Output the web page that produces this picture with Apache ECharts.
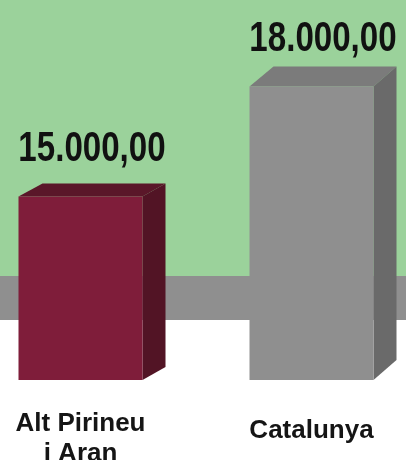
<!DOCTYPE html>
<html>
<head>
<meta charset="utf-8">
<script src="https://cdn.jsdelivr.net/npm/echarts@6/dist/echarts.min.js"></script>
<style>html,body{margin:0;padding:0;background:#fff}#c{width:406px;height:460px}</style>
</head>
<body>
<div id="c"></div>
<script>
const categories = ['Alt Pirineu\ni Aran', 'Catalunya'];
const values = [15000, 18000];
const valueLabels = ['15.000,00', '18.000,00'];

const palette = [
  { front: '#7f1d3a', side: '#521425', top: '#5a1729' },
  { front: '#8f8f8f', side: '#6a6a6a', top: '#7b7b7b' }
];

const chart = echarts.init(document.getElementById('c'), null, { renderer: 'canvas' });

const option = {
  animation: false,
  backgroundColor: '#ffffff',
  graphic: [
    { type: 'rect', z: -10, silent: true, shape: { x: 0, y: 0, width: 406, height: 276 }, style: { fill: '#9bd29b' } },
    { type: 'rect', z: -10, silent: true, shape: { x: 0, y: 276, width: 406, height: 44 }, style: { fill: '#8f8f8f' } }
  ],
  grid: { left: 80.5, right: 94.5, top: 13, bottom: 80, containLabel: false, outerBoundsMode: 'none' },
  xAxis: {
    type: 'category',
    data: categories,
    boundaryGap: false,
    axisLine: { show: false },
    axisTick: { show: false },
    splitLine: { show: false },
    axisLabel: {
      margin: 29,
      interval: 0,
      color: '#151515',
      fontFamily: 'Liberation Sans',
      fontWeight: 'bold',
      fontSize: 26,
      lineHeight: 30,
      formatter: function (v, i) {
        return i === 1 ? '{b|' + v + '}' : v;
      },
      rich: {
        b: { fontFamily: 'Liberation Sans', fontWeight: 'bold', fontSize: 26, color: '#151515', lineHeight: 30, padding: [14, 0, 0, 0] }
      }
    }
  },
  yAxis: {
    type: 'value',
    min: 10000,
    max: 20000,
    show: false,
    splitLine: { show: false }
  },
  series: [{
    type: 'custom',
    data: values.map((v, i) => [i, v]),
    encode: { x: 0, y: 1 },
    renderItem: function (params, api) {
      const idx = api.value(0);
      const v = api.value(1);
      const top = api.coord([idx, v]);
      const base = api.coord([idx, 10000]);
      const w = 124;
      const x0 = top[0] - w / 2, x1 = top[0] + w / 2;
      const dx = 23;
      const dy = idx === 0 ? 13 : 20;
      const ty = top[1], by = base[1];
      const c = palette[idx];
      const lx = top[0] + dx / 2;
      const ly = ty - 26;
      return {
        type: 'group',
        children: [
          { type: 'polygon', shape: { points: [[x0, ty], [x1, ty], [x1 + dx, ty - dy], [x0 + dx + 1, ty - dy]] }, style: { fill: c.top } },
          { type: 'polygon', shape: { points: [[x1, ty], [x1 + dx, ty - dy], [x1 + dx, by - dy], [x1, by]] }, style: { fill: c.side } },
          { type: 'rect', shape: { x: x0, y: ty, width: w, height: by - ty }, style: { fill: c.front } },
          {
            type: 'text',
            x: lx,
            y: ly,
            scaleX: 0.77,
            style: {
              x: 0,
              y: 0,
              text: valueLabels[idx],
              fill: '#111111',
              font: 'bold 43px "Liberation Sans", sans-serif',
              textAlign: 'center',
              textVerticalAlign: 'bottom'
            }
          }
        ]
      };
    }
  }]
};
chart.setOption(option);
</script>
</body>
</html>
